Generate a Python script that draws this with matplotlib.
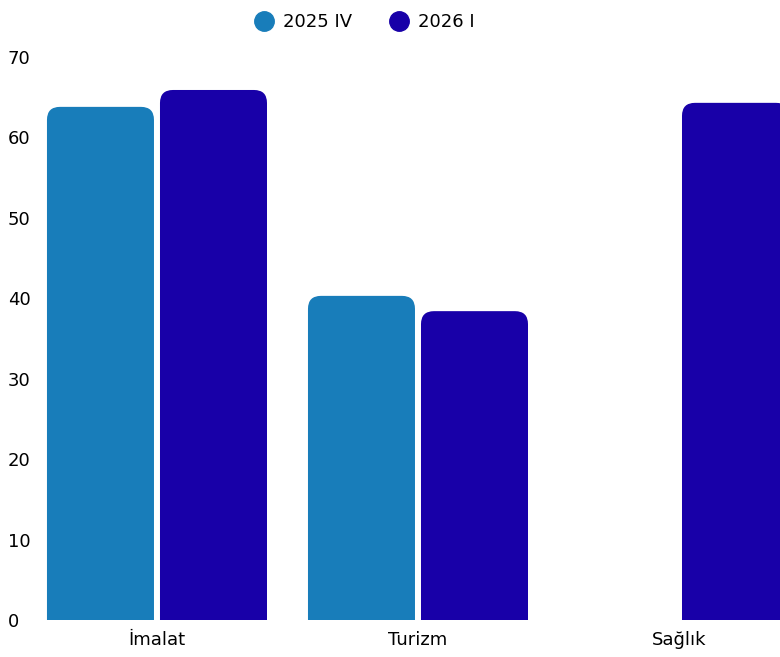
import numpy as np
import matplotlib
matplotlib.use("Agg")
import matplotlib.pyplot as plt
from matplotlib.path import Path
from matplotlib.patches import PathPatch
from matplotlib.lines import Line2D

categories = ["İmalat", "Turizm", "Sağlık"]
series_names = ["2025 IV", "2026 I"]
values_2025_iv = [63.8, 40.3, np.nan]
values_2026_i = [65.9, 38.4, 64.3]
colors = ["#187dba", "#1800a8"]
y_ticks = [0, 10, 20, 30, 40, 50, 60, 70]


def rounded_top_bar(ax, xc, width, height, color, rpx=13):
    # corner radius given in pixels, converted to data units per axis
    trans = ax.transData
    p0 = trans.transform((0, 0))
    p1 = trans.transform((1, 1))
    rx = rpx / abs(p1[0] - p0[0])
    ry = min(rpx / abs(p1[1] - p0[1]), height)
    left, right = xc - width / 2, xc + width / 2
    verts = [
        (left, 0), (left, height - ry), (left, height), (left + rx, height),
        (right - rx, height), (right, height), (right, height - ry),
        (right, 0), (left, 0),
    ]
    codes = [
        Path.MOVETO, Path.LINETO, Path.CURVE3, Path.CURVE3,
        Path.LINETO, Path.CURVE3, Path.CURVE3,
        Path.LINETO, Path.CLOSEPOLY,
    ]
    ax.add_patch(PathPatch(Path(verts, codes), facecolor=color,
                           edgecolor="none", clip_on=True))


fig = plt.figure(figsize=(7.8, 6.57), dpi=100)
ax = fig.add_axes([27 / 780, 37 / 657, 753 / 780, 563 / 657])
ax.set_xlim(-0.498, 2.387)
ax.set_ylim(0, 70)

x = np.arange(len(categories))
bar_w = 0.41
offset = 0.2165
for i, xc in enumerate(x):
    for vals, sign, col in ((values_2025_iv, -1, colors[0]), (values_2026_i, 1, colors[1])):
        v = vals[i]
        if not np.isnan(v):
            rounded_top_bar(ax, xc + sign * offset, bar_w, v, col)

for s in ax.spines.values():
    s.set_visible(False)

ax.set_xticks(x)
ax.set_xticklabels(categories, fontsize=13)
ax.set_yticks(y_ticks)
ax.set_yticklabels([str(t) for t in y_ticks], fontsize=13, ha="left")
ax.tick_params(axis="y", length=0, pad=13.7)
ax.tick_params(axis="x", length=0, pad=8)

handles = [Line2D([], [], marker="o", linestyle="none", markersize=14,
                  markerfacecolor=c, markeredgecolor=c) for c in colors]
fig.legend(handles, series_names, loc="upper center", bbox_to_anchor=(0.462, 1.005),
           ncol=2, frameon=False, fontsize=13, handletextpad=0.08, columnspacing=1.55)

fig.savefig("out.png", dpi=100)
